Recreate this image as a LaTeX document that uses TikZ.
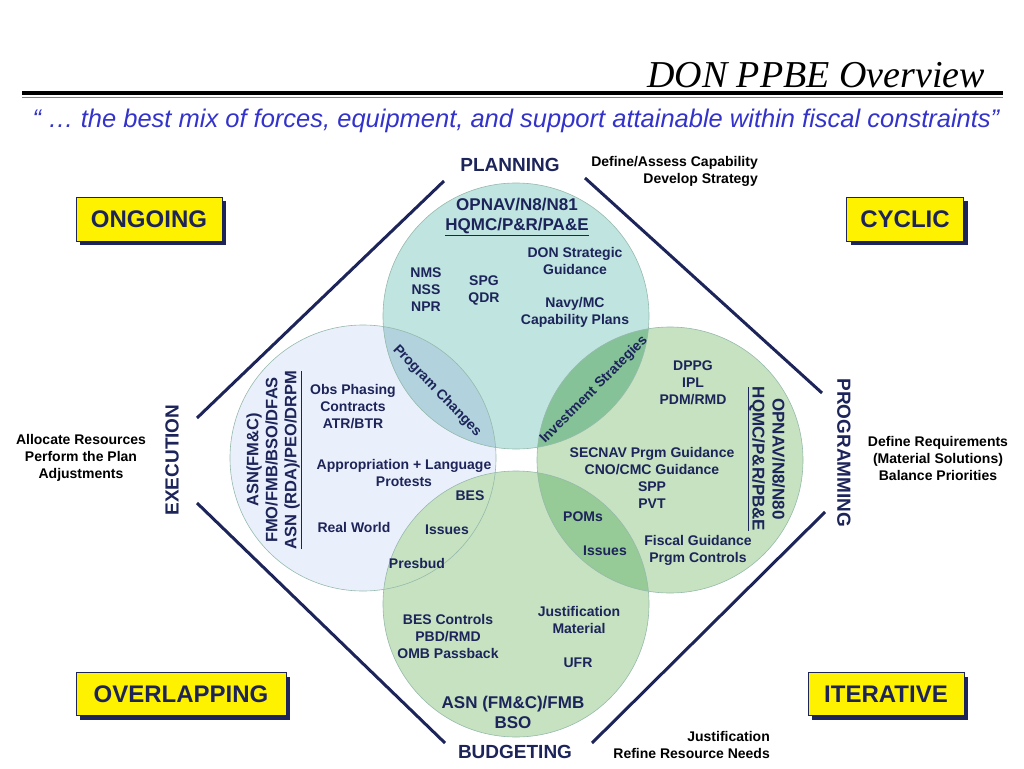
\documentclass[tikz,border=0pt]{standalone}
\usepackage{fontspec}
\setmainfont{Liberation Sans}
\newfontfamily\titlefont{Liberation Serif}
\usetikzlibrary{shadows}
\definecolor{navy}{RGB}{28,36,90}
\definecolor{planfill}{RGB}{192,228,224}
\definecolor{execfill}{RGB}{234,240,251}
\definecolor{progfill}{RGB}{198,226,192}
\definecolor{lensPE}{RGB}{178,210,222}
\definecolor{lensPP}{RGB}{134,194,152}
\definecolor{lensBP}{RGB}{150,202,150}
\definecolor{rimcol}{RGB}{150,186,172}
\definecolor{quoteblue}{RGB}{51,51,204}
\tikzset{
  phase/.style={font=\bfseries\fontsize{19}{22}\selectfont, text=navy, inner sep=0pt},
  body/.style={font=\bfseries\fontsize{14}{17}\selectfont, text=navy, align=center, inner sep=0pt},
  owner/.style={font=\bfseries\fontsize{17}{20}\selectfont, text=navy, align=center, inner sep=0pt},
  note/.style={font=\bfseries\fontsize{14}{17}\selectfont, text=black, inner sep=0pt},
  tag/.style={draw=navy, line width=0.8pt, fill=yellow, font=\bfseries\fontsize{24}{28}\selectfont,
    text=navy, minimum height=44pt, inner sep=0pt,
    drop shadow={shadow xshift=4pt, shadow yshift=-4pt, fill=navy, opacity=1}},
  side/.style={navy, line width=3pt},
  rim/.style={draw=rimcol, line width=0.6pt}
}
\begin{document}
\begin{tikzpicture}[x=1pt, y=-1pt]
  \useasboundingbox (0,0) rectangle (1024,768);
  % heading
  \node[anchor=base east, font=\titlefont\itshape\fontsize{38}{40}\selectfont, inner sep=0pt] (title) at (985,87) {DON PPBE Overview};
  \draw[line width=3.5pt] (22,93) -- (1003,93);
  \draw[gray, line width=1.5pt] (22,97.5) -- (1003,97.5);
  \node[font=\itshape\fontsize{25.5}{28}\selectfont, text=quoteblue, inner sep=0pt] (quote) at (516,121) {“ … the best mix of forces, equipment, and support attainable within fiscal constraints”};

  % the four phase circles
  \coordinate (plan) at (516,316);
  \coordinate (exec) at (363,458);
  \coordinate (prog) at (670,460);
  \coordinate (budg) at (516,604);
  \fill[execfill] (exec) circle (133pt);
  \fill[progfill] (prog) circle (133pt);
  \fill[progfill] (budg) circle (133pt);
  \fill[planfill] (plan) circle (133pt);
  \begin{scope}
    \clip (plan) circle (133pt);
    \fill[lensPE] (exec) circle (133pt);
    \fill[lensPP] (prog) circle (133pt);
  \end{scope}
  \begin{scope}
    \clip (budg) circle (133pt);
    \fill[lensBP] (prog) circle (133pt);
  \end{scope}
  \foreach \c in {exec,prog,budg,plan} \draw[rim] (\c) circle (133pt);

  % diamond sides
  \coordinate (tl1) at (197,418); \coordinate (tl2) at (444,181);
  \coordinate (tr1) at (585,178); \coordinate (tr2) at (822,393);
  \coordinate (br1) at (825,512); \coordinate (br2) at (592,743);
  \coordinate (bl1) at (197,503); \coordinate (bl2) at (445,743);
  \draw[side] (tl1) -- (tl2);
  \draw[side] (tr1) -- (tr2);
  \draw[side] (br1) -- (br2);
  \draw[side] (bl1) -- (bl2);

  \node[phase] (planning) at (510,165) {PLANNING};
  \node[phase] (budgeting) at (515,752) {BUDGETING};
  \node[phase, rotate=90] (execution) at (172,460) {EXECUTION};
  \node[phase, rotate=-90] (programming) at (844,453) {PROGRAMMING};

  % owners
  \node[owner] (planown) at (517,217) {OPNAV/N8/N81\\\underline{HQMC/P\&R/PA\&E}};
  \node[owner, rotate=90, font=\bfseries\fontsize{16.5}{19}\selectfont] (execown) at (274,460) {ASN(FM\&C)\\FMO/FMB/BSO/DFAS\\\underline{ASN (RDA)/PEO/DRPM}};
  \node[owner, rotate=-90] (progown) at (766,459) {OPNAV/N8/N80\\\underline{HQMC/P\&R/PB\&E}};
  \node[owner] (budgown) at (513,712) {ASN (FM\&C)/FMB\\BSO};

  % circle contents
  \node[body] (nms) at (426,290) {NMS\\NSS\\NPR};
  \node[body] (spg) at (484,290) {SPG\\QDR};
  \node[body] (donsg) at (575,261) {DON Strategic\\Guidance};
  \node[body] (capplans) at (575,312) {Navy/MC\\Capability Plans};
  \node[body] (obs) at (353,407) {Obs Phasing\\Contracts\\ATR/BTR};
  \node[body] (approp) at (404,473) {Appropriation + Language\\Protests};
  \node[body] (besl) at (470,496) {BES};
  \node[body] (realworld) at (354,527) {Real World};
  \node[body] (issuesl) at (447,530) {Issues};
  \node[body] (presbud) at (417,563) {Presbud};
  \node[body] (dppg) at (693,383) {DPPG\\IPL\\PDM/RMD};
  \node[body] (secnav) at (652,478) {SECNAV Prgm Guidance\\CNO/CMC Guidance\\SPP\\PVT};
  \node[body] (poms) at (583,517) {POMs};
  \node[body] (issuesr) at (605,551) {Issues};
  \node[body] (fiscal) at (698,550) {Fiscal Guidance\\Prgm Controls};
  \node[body] (bescon) at (448,636) {BES Controls\\PBD/RMD\\OMB Passback};
  \node[body] (justmat) at (579,620) {Justification\\Material};
  \node[body] (ufr) at (578,663) {UFR};
  \node[body, rotate=-46] (progchg) at (437,391) {Program Changes};
  \node[body, rotate=45] (invest) at (594,390) {Investment Strategies};

  % side notes
  \node[note, align=right, anchor=east] (definecap) at (758,171) {Define/Assess Capability\\Develop Strategy};
  \node[note, align=center] (allocate) at (81,458) {Allocate Resources\\Perform the Plan\\Adjustments};
  \node[note, align=center] (definereq) at (938,458) {Define Requirements\\(Material Solutions)\\Balance Priorities};
  \node[note, align=right, anchor=east] (justif) at (770,745) {Justification\\Refine Resource Needs};

  % yellow tags
  \node[tag, minimum width=146pt] (ongoing) at (149,219) {ONGOING};
  \node[tag, minimum width=117pt] (cyclic) at (905,219) {CYCLIC};
  \node[tag, minimum width=210pt, minimum height=43pt] (overlap) at (181,694) {OVERLAPPING};
  \node[tag, minimum width=156pt, minimum height=43pt] (iterative) at (886,694) {ITERATIVE};
\end{tikzpicture}
\end{document}
